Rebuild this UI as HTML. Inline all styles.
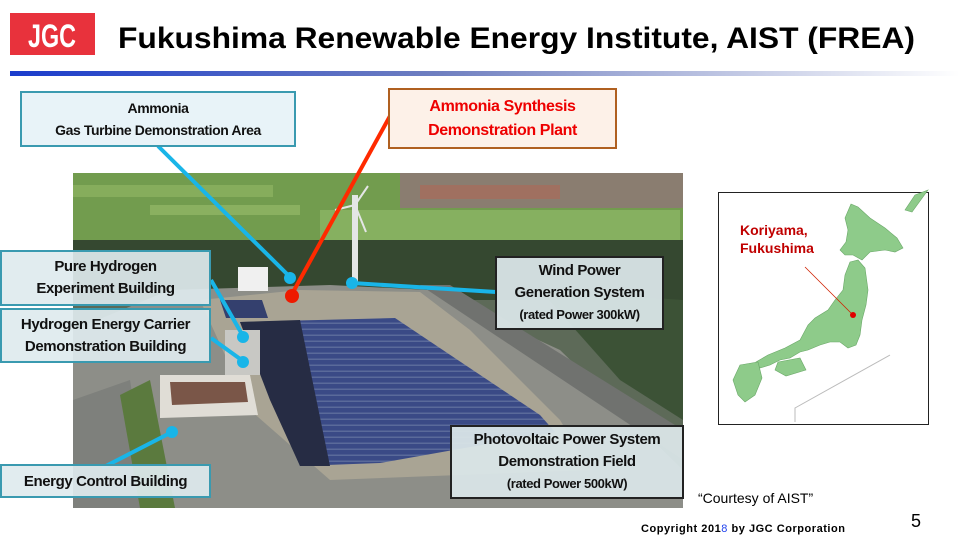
<!DOCTYPE html>
<html><head><meta charset="utf-8"><style>
body{margin:0;width:960px;height:540px;overflow:hidden;background:#fff;font-family:"Liberation Sans",sans-serif;position:relative}
.b{position:absolute;box-sizing:border-box;text-align:center;font-family:"Liberation Sans",sans-serif;font-weight:bold;color:#111;display:flex;flex-direction:column;justify-content:center;letter-spacing:-0.4px}
</style></head><body>
<svg width="960" height="540" style="position:absolute;left:0;top:0">
<defs><linearGradient id="g" x1="0" x2="1"><stop offset="0" stop-color="#1a3ccc"/><stop offset="0.45" stop-color="#6f7fc0"/><stop offset="1" stop-color="#fff"/></linearGradient>
<pattern id="pv" width="8" height="6" patternUnits="userSpaceOnUse"><rect width="8" height="6" fill="#3a4a86"/><rect x="0" y="4.5" width="8" height="1.5" fill="#5a6a9a"/></pattern></defs>
<rect x="10" y="13" width="85" height="42" fill="#e8323c"/>
<text x="52" y="47" fill="#fff" font-size="32" font-weight="bold" text-anchor="middle" font-family="Liberation Sans" textLength="48" lengthAdjust="spacingAndGlyphs">JGC</text>
<text x="118" y="48" font-size="30" font-weight="bold" font-family="Liberation Sans" textLength="797" lengthAdjust="spacingAndGlyphs">Fukushima Renewable Energy Institute, AIST (FREA)</text>
<rect x="10" y="71" width="950" height="5" fill="url(#g)"/>
<!-- photo -->
<rect x="73" y="173" width="610" height="335" fill="#5d6a58"/>
<rect x="73" y="173" width="610" height="80" fill="#729c4e"/>
<rect x="73" y="185" width="200" height="12" fill="#86ad5c"/>
<rect x="150" y="205" width="150" height="10" fill="#8ab060"/>
<rect x="320" y="210" width="360" height="30" fill="#86b060"/>
<rect x="400" y="173" width="283" height="35" fill="#8a7d70"/>
<rect x="420" y="185" width="140" height="14" fill="#a07060"/>
<rect x="73" y="240" width="610" height="60" fill="#354830"/>
<polygon points="540,290 683,300 683,420 620,380" fill="#3c5236"/>
<polygon points="73,330 170,290 330,285 430,290 560,350 683,470 683,508 73,508" fill="#8d8e88"/>
<polygon points="420,285 450,285 683,430 683,460" fill="#70726f"/>
<polygon points="200,300 300,290 420,292 470,330 560,420 590,470 330,480 250,410" fill="#a9a494"/>
<polygon points="240,322 395,318 540,415 555,432 380,463 300,466" fill="url(#pv)"/>
<polygon points="240,322 300,320 330,466 300,466 270,400" fill="#262c44"/>
<polygon points="220,300 262,300 268,318 226,318" fill="#34406e"/>
<polygon points="160,375 250,375 258,415 160,418" fill="#e0ddd6"/>
<polygon points="170,382 245,382 248,402 172,405" fill="#7a5648"/>
<rect x="238" y="267" width="30" height="24" fill="#f0f0f0"/>
<rect x="225" y="330" width="35" height="45" fill="#c8c8c4"/>
<polygon points="73,400 130,380 150,508 73,508" fill="#7e807c"/>
<polygon points="120,395 150,380 175,508 140,508" fill="#5b7a3e"/>
<rect x="352" y="195" width="6" height="90" fill="#e4e6e6"/>
<line x1="355" y1="205" x2="368" y2="186" stroke="#e4e6e6" stroke-width="2"/>
<line x1="355" y1="205" x2="335" y2="210" stroke="#e4e6e6" stroke-width="2"/>
<line x1="355" y1="205" x2="366" y2="232" stroke="#e4e6e6" stroke-width="2"/>
<!-- lines -->
<g stroke="#19b5e8" stroke-width="4" fill="#19b5e8">
<line x1="158" y1="146" x2="290" y2="277"/><circle cx="290" cy="278" r="6" stroke="none"/>
<line x1="352" y1="283" x2="496" y2="292"/><circle cx="352" cy="283" r="6" stroke="none"/>
<line x1="211" y1="280" x2="243" y2="336"/><circle cx="243" cy="337" r="6" stroke="none"/>
<line x1="211" y1="338" x2="243" y2="361"/><circle cx="243" cy="362" r="6" stroke="none"/>
<line x1="102" y1="468" x2="172" y2="432"/><circle cx="172" cy="432" r="6" stroke="none"/>
</g>
<line x1="390" y1="116" x2="292" y2="294" stroke="#ff2a00" stroke-width="4"/>
<circle cx="292" cy="296" r="7" fill="#ee1a00"/>
<!-- map -->
<rect x="718.5" y="192.5" width="210" height="232" fill="#fff" stroke="#222" stroke-width="1"/>
<g fill="#8ecb8a" stroke="#6aa868" stroke-width="0.6">
<polygon points="851,204 858,207 870,218 885,228 897,238 903,248 895,252 885,250 870,252 862,260 853,255 845,255 840,250 846,242 848,230 845,218"/>
<polygon points="850,262 858,260 865,268 868,290 866,305 862,320 860,335 856,345 848,348 840,342 830,342 820,345 808,350 800,352 790,358 780,360 770,365 760,368 756,362 768,355 785,348 800,340 808,325 815,318 828,310 835,300 843,290 845,275"/>
<polygon points="778,362 800,358 806,370 786,376 775,370"/>
<polygon points="740,365 758,362 762,378 755,395 745,402 738,395 733,380"/>
<polygon points="915,195 928,190 912,212 905,210"/>
</g>
<polyline points="795,422 795,408 890,355" fill="none" stroke="#bbb" stroke-width="1"/>
<line x1="805" y1="267" x2="853" y2="315" stroke="#d02000" stroke-width="0.8"/>
<circle cx="853" cy="315" r="3" fill="#e00000"/>
<text x="740" y="235" fill="#c00000" font-size="14" font-weight="bold" font-family="Liberation Sans">Koriyama,</text>
<text x="740" y="253" fill="#c00000" font-size="14" font-weight="bold" font-family="Liberation Sans">Fukushima</text>
<text x="698" y="503" font-size="14" font-family="Liberation Sans">“Courtesy of AIST”</text>
<text x="911" y="527" font-size="18" font-family="Liberation Sans">5</text>
<text x="641" y="532" font-size="11" font-weight="bold" font-family="Liberation Sans" textLength="204" lengthAdjust="spacing">Copyright  201<tspan fill="#2244ee" font-weight="normal">8</tspan> by JGC Corporation</text>
</svg>
<div class="b" style="left:20px;top:91px;width:276px;height:56px;background:#e8f3f8;border:2px solid #3a9ab0;font-size:14px;line-height:22px">Ammonia<br>Gas Turbine Demonstration Area</div>
<div class="b" style="left:388px;top:88px;width:229px;height:61px;background:#fdf1e8;border:2px solid #b06020;color:#ee0000;font-size:16px;line-height:24px">Ammonia Synthesis<br>Demonstration Plant</div>
<div class="b" style="left:0;top:250px;width:211px;height:56px;background:rgba(222,234,238,0.92);border:2px solid #3a9ab0;font-size:15px;line-height:22px">Pure Hydrogen<br>Experiment Building</div>
<div class="b" style="left:0;top:308px;width:211px;height:55px;background:rgba(222,234,238,0.92);border:2px solid #3a9ab0;font-size:15px;line-height:22px">Hydrogen Energy Carrier<br>Demonstration Building</div>
<div class="b" style="left:0;top:464px;width:211px;height:34px;background:rgba(222,234,238,0.92);border:2px solid #3a9ab0;font-size:15px">Energy Control Building</div>
<div class="b" style="left:495px;top:256px;width:169px;height:74px;background:rgba(218,230,232,0.94);border:2px solid #222;font-size:15px;line-height:22px">Wind Power<br>Generation System<br><span style="font-size:13px">(rated Power 300kW)</span></div>
<div class="b" style="left:450px;top:425px;width:234px;height:74px;background:rgba(218,230,232,0.94);border:2px solid #222;font-size:15px;line-height:22px">Photovoltaic Power System<br>Demonstration Field<br><span style="font-size:13px">(rated Power 500kW)</span></div>
</body></html>
